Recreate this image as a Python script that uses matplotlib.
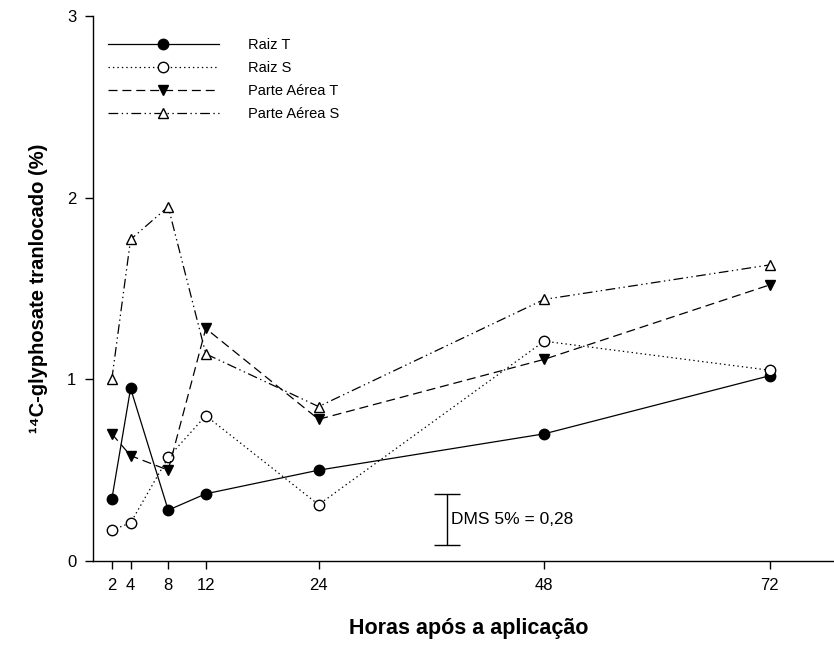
import matplotlib
matplotlib.use("Agg")
import matplotlib.pyplot as plt

plt.rcParams['font.family'] = ['Liberation Sans', 'DejaVu Sans']
plt.rcParams['lines.scale_dashes'] = False

hours = [2, 4, 8, 12, 24, 48, 72]
raiz_t = [0.34, 0.95, 0.28, 0.37, 0.50, 0.70, 1.02]
raiz_s = [0.17, 0.21, 0.57, 0.80, 0.31, 1.21, 1.05]
parte_t = [0.70, 0.58, 0.50, 1.28, 0.78, 1.11, 1.52]
parte_s = [1.00, 1.77, 1.95, 1.14, 0.85, 1.44, 1.63]
labels = ['Raiz T', 'Raiz S', 'Parte Aérea T', 'Parte Aérea S']
yticks = [0, 1, 2, 3]
dms_value = 0.28
dms_x = 37.7
dms_y = 0.228

W, H = 834, 652
fig = plt.figure(figsize=(W / 100, H / 100), dpi=100)
ax = fig.add_axes([93 / W, (H - 561) / H, 752 / W, 545 / H])

lw = 0.9
ms = 7.5
ax.plot(hours, raiz_t, color='black', lw=lw, ls='-', marker='o', ms=ms,
        mfc='black', mec='black', label=labels[0])
ax.plot(hours, raiz_s, color='black', lw=lw, ls=(0, (1, 2.2)), marker='o', ms=ms,
        mfc='white', mec='black', label=labels[1])
ax.plot(hours, parte_t, color='black', lw=lw, ls=(0, (6.5, 3.5)), marker='v', ms=ms,
        mfc='black', mec='black', label=labels[2])
ax.plot(hours, parte_s, color='black', lw=lw, ls=(0, (7, 2.5, 1, 2.5, 1, 2.5)), marker='^',
        ms=ms, mfc='white', mec='black', label=labels[3])

# DMS bar
ax.errorbar([dms_x], [dms_y], yerr=[dms_value / 2], color='black', lw=1.0,
            capsize=9.5, capthick=1.0, fmt='none')
ax.text(dms_x + 0.4, dms_y, 'DMS 5% = 0,28', fontsize=12.5, va='center', ha='left')

ax.set_xlim(0, 80)
ax.set_ylim(0, 3)
ax.set_xticks(hours)
ax.set_xticklabels([str(h) for h in hours])
ax.set_yticks(yticks)
ax.set_yticklabels([str(t) for t in yticks])
ax.tick_params(direction='out', length=6, width=1, labelsize=12, pad=6)
for s in ['top', 'right']:
    ax.spines[s].set_visible(False)
for s in ['left', 'bottom']:
    ax.spines[s].set_linewidth(1.0)

ax.set_xlabel('Horas após a aplicação', fontsize=15.5, fontweight='bold', labelpad=18)
ax.set_ylabel('¹⁴C-glyphosate tranlocado (%)', fontsize=14.5, fontweight='bold', labelpad=14)

leg = ax.legend(loc='upper left', bbox_to_anchor=(0.006, 0.978), frameon=False, fontsize=10.5,
                handlelength=7.6, handletextpad=2.0, labelspacing=0.62, numpoints=1,
                borderaxespad=0.3)

fig.savefig('out.png', dpi=100)
